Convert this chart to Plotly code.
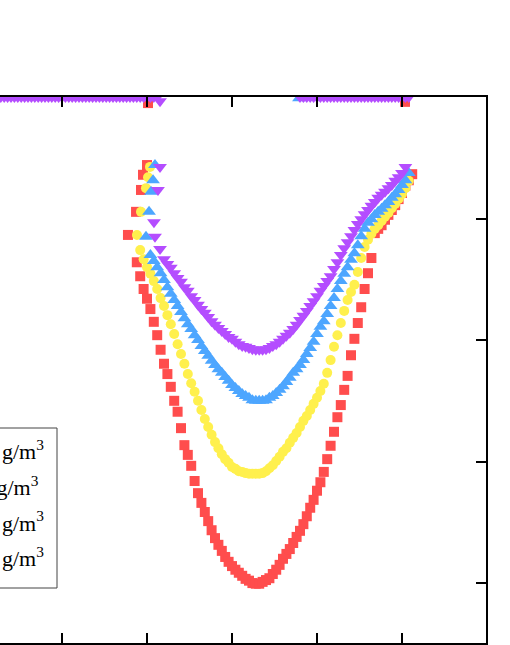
import pandas as pd
import plotly.express as px

# shared x grid of the dip curves
x_grid = [18.8, 19.2, 19.6, 20.0, 20.4, 20.8, 21.2, 21.6, 22.0, 22.4,
          22.8, 23.2, 23.6, 24.0, 24.4, 24.8, 25.2, 25.6, 26.0, 26.4,
          26.8, 27.2, 27.6, 28.0, 28.4, 28.8, 29.2, 29.6, 30.0, 30.4,
          30.8, 31.2, 31.6, 32.0, 32.4, 32.8, 33.2, 33.6, 34.0, 34.4,
          34.8, 35.2, 35.6, 36.0, 36.4, 36.8, 37.2, 37.6, 38.0, 38.4,
          38.8, 39.2, 39.6, 40.0, 40.4, 40.8, 41.2, 41.6, 42.0, 42.4,
          42.8, 43.2, 43.6, 44.0, 44.4, 44.8, 45.2, 45.6, 46.0, 46.4,
          46.8, 47.2, 47.6, 48.0, 48.4, 48.8, 49.2, 49.6, 50.0, 50.4,
          50.8, 51.2]

red_y = [0.728, 0.705, 0.684, 0.668, 0.651, 0.630, 0.608, 0.584, 0.561, 0.544,
         0.523, 0.500, 0.482, 0.455, 0.427, 0.411, 0.393, 0.368, 0.348, 0.332,
         0.317, 0.302, 0.287, 0.274, 0.263, 0.253, 0.243, 0.235, 0.228, 0.222,
         0.217, 0.212, 0.207, 0.204, 0.200, 0.199, 0.199, 0.202, 0.205, 0.208,
         0.215, 0.222, 0.230, 0.240, 0.248, 0.256, 0.266, 0.276, 0.286, 0.297,
         0.310, 0.324, 0.337, 0.352, 0.366, 0.383, 0.404, 0.426, 0.449, 0.473,
         0.493, 0.518, 0.541, 0.575, 0.602, 0.628, 0.654, 0.684, 0.710, 0.735,
         0.776, 0.783, 0.789, 0.798, 0.806, 0.814, 0.822, 0.832, 0.842, 0.854,
         0.863, 0.873]

yellow_y = [None, 0.748, 0.733, 0.720, 0.709, 0.697, 0.684, 0.669, 0.656, 0.641,
            0.626, 0.610, 0.593, 0.577, 0.561, 0.544, 0.529, 0.515, 0.500, 0.485,
            0.470, 0.457, 0.444, 0.432, 0.422, 0.412, 0.404, 0.398, 0.391, 0.388,
            0.384, 0.383, 0.381, 0.380, 0.380, 0.380, 0.380, 0.381, 0.384, 0.389,
            0.394, 0.401, 0.408, 0.416, 0.422, 0.431, 0.439, 0.447, 0.457, 0.467,
            0.475, 0.485, 0.495, 0.505, 0.516, 0.528, 0.546, 0.567, 0.589, 0.608,
            0.628, 0.648, 0.666, 0.679, 0.691, 0.712, 0.735, 0.753, 0.765, 0.775,
            0.783, 0.789, 0.796, 0.803, 0.809, 0.817, 0.824, 0.832, 0.840, 0.850,
            0.862, None]

blue_y = [None, None, None, None, 0.740, 0.730, 0.720, 0.710, 0.699, 0.687,
          0.676, 0.666, 0.656, 0.646, 0.636, 0.626, 0.618, 0.608, 0.600, 0.590,
          0.582, 0.574, 0.566, 0.559, 0.552, 0.546, 0.539, 0.533, 0.526, 0.521,
          0.516, 0.511, 0.508, 0.505, 0.501, 0.500, 0.500, 0.500, 0.501, 0.505,
          0.508, 0.513, 0.518, 0.524, 0.531, 0.538, 0.546, 0.552, 0.559, 0.567,
          0.577, 0.587, 0.597, 0.610, 0.622, 0.631, 0.643, 0.656, 0.669, 0.684,
          0.697, 0.709, 0.720, 0.732, 0.743, 0.756, 0.771, 0.783, 0.793, 0.799,
          0.806, 0.811, 0.816, 0.822, 0.827, 0.834, 0.840, 0.847, 0.855, 0.863,
          0.875, None]

purple_y = [None, None, None, None, None, None, None, None, 0.733, 0.725,
            0.719, 0.710, 0.702, 0.696, 0.687, 0.681, 0.672, 0.666, 0.658, 0.651,
            0.645, 0.638, 0.631, 0.625, 0.620, 0.615, 0.610, 0.605, 0.602, 0.597,
            0.593, 0.590, 0.589, 0.587, 0.585, 0.584, 0.584, 0.584, 0.585, 0.587,
            0.590, 0.593, 0.597, 0.602, 0.607, 0.612, 0.618, 0.625, 0.633, 0.640,
            0.648, 0.656, 0.664, 0.672, 0.681, 0.689, 0.697, 0.705, 0.717, 0.728,
            0.740, 0.751, 0.761, 0.771, 0.781, 0.791, 0.799, 0.807, 0.814, 0.821,
            0.827, 0.834, 0.839, 0.844, 0.850, 0.855, 0.862, 0.868, 0.875, 0.885,
            None, None]

# points of the upper left bend (and stray points near the top border)
red_hook_x = [20.12, 20.0, 19.53, 19.29, 18.71, 17.76, 50.35]
red_hook_y = [0.990, 0.888, 0.872, 0.847, 0.811, 0.773, 0.992]
yellow_hook_x = [20.35, 20.12, 19.88, 19.29, 18.82]
yellow_hook_y = [0.885, 0.868, 0.850, 0.811, 0.773]
blue_hook_x = [37.88, 20.94, 20.71, 20.47, 20.24, 19.88]
blue_hook_y = [0.998, 0.888, 0.863, 0.844, 0.811, 0.770]
purple_hook_x = [21.53, 21.53, 21.29, 20.82, 20.94, 21.53]
purple_hook_y = [0.993, 0.885, 0.847, 0.794, 0.770, 0.750]

# points sitting on the upper limit
purple_top_x = [2.8, 3.2, 3.6, 4.0, 4.4, 4.8, 5.2, 5.6, 6.0, 6.4,
                6.8, 7.2, 7.6, 8.0, 8.4, 8.8, 9.2, 9.6, 10.0, 10.4,
                10.8, 11.2, 11.6, 12.0, 12.4, 12.8, 13.2, 13.6, 14.0, 14.4,
                14.8, 15.2, 15.6, 16.0, 16.4, 16.8, 17.2, 17.6, 18.0, 18.4,
                18.8, 19.2, 19.6, 20.0, 20.4, 20.8, 21.2,
                38.0, 38.4, 38.8, 39.2, 39.6, 40.0, 40.4, 40.8, 41.2, 41.6,
                42.0, 42.4, 42.8, 43.2, 43.6, 44.0, 44.4, 44.8, 45.2, 45.6,
                46.0, 46.4, 46.8, 47.2, 47.6, 48.0, 48.4, 48.8, 49.2, 49.6,
                50.0, 50.4, 50.8]
purple_top_y = [1.0, 1.0, 1.0, 1.0, 1.0, 1.0, 1.0, 1.0, 1.0, 1.0,
                1.0, 1.0, 1.0, 1.0, 1.0, 1.0, 1.0, 1.0, 1.0, 1.0,
                1.0, 1.0, 1.0, 1.0, 1.0, 1.0, 1.0, 1.0, 1.0, 1.0,
                1.0, 1.0, 1.0, 1.0, 1.0, 1.0, 1.0, 1.0, 1.0, 1.0,
                1.0, 1.0, 1.0, 1.0, 1.0, 1.0, 1.0,
                1.0, 1.0, 1.0, 1.0, 1.0, 1.0, 1.0, 1.0, 1.0, 1.0,
                1.0, 1.0, 1.0, 1.0, 1.0, 1.0, 1.0, 1.0, 1.0, 1.0,
                1.0, 1.0, 1.0, 1.0, 1.0, 1.0, 1.0, 1.0, 1.0, 1.0,
                1.0, 1.0, 1.0]

names = ["7.5 g/m<sup>3</sup>", "10 g/m<sup>3</sup>",
         "5.0 g/m<sup>3</sup>", "2.5 g/m<sup>3</sup>"]
colors = ["#FF4D4D", "#FFF04D", "#4DA6FF", "#B44DFF"]
symbols = ["square", "circle", "triangle-up", "triangle-down"]


def build_df():
	parts = [
		(names[0], x_grid + red_hook_x, red_y + red_hook_y),
		(names[1], x_grid + yellow_hook_x, yellow_y + yellow_hook_y),
		(names[2], x_grid + blue_hook_x, blue_y + blue_hook_y),
		(names[3], x_grid + purple_hook_x + purple_top_x,
		 purple_y + purple_hook_y + purple_top_y),
	]
	frames = [pd.DataFrame({'x': xs, 'y': ys, 'series': n}) for n, xs, ys in parts]
	return pd.concat(frames, ignore_index=True)


def create_figure(df):
	fig = px.scatter(
		df,
		x='x',
		y='y',
		color='series',
		symbol='series',
		color_discrete_sequence=colors,
		symbol_sequence=symbols,
	)
	fig.update_traces(marker=dict(size=10, line=dict(width=0)))
	fig.update_traces(selector={'name': names[2]}, marker_size=12)
	fig.update_traces(selector={'name': names[3]}, marker_size=12)
	fig.update_layout(
		width=510,
		height=645,
		margin=dict(l=0, r=0, t=97, b=2, autoexpand=False),
		plot_bgcolor='white',
		paper_bgcolor='white',
		legend=dict(
			title=dict(text=''),
			x=50 / 510,
			xanchor='right',
			y=(643 - 430) / 546,
			yanchor='top',
			font=dict(family='Liberation Serif', size=22, color='black'),
			bgcolor='rgba(0,0,0,0)',
			borderwidth=0,
			tracegroupgap=4,
		),
		# legend frame, its left part runs past the page edge
		shapes=[dict(
			type='rect', xref='paper', yref='paper',
			x0=-0.3, x1=57 / 510,
			y0=(643 - 588) / 546, y1=(643 - 428) / 546,
			line=dict(color='#444444', width=1),
			fillcolor='white',
			layer='below',
		)],
	)
	fig.update_xaxes(
		title_text='',
		domain=[0, 486 / 510],
		range=[2.706, 59.882],
		tickvals=[10, 20, 30, 40, 50],
		ticks='inside',
		ticklen=10,
		tickwidth=2,
		tickcolor='black',
		showline=True,
		linewidth=2,
		linecolor='black',
		mirror='ticks',
		showgrid=False,
		zeroline=False,
		showticklabels=False,
	)
	fig.update_yaxes(
		title_text='',
		range=[0.1014, 1.0],
		side='right',
		tickvals=[0.2, 0.4, 0.6, 0.8],
		ticks='inside',
		ticklen=10,
		tickwidth=2,
		tickcolor='black',
		showline=True,
		linewidth=2,
		linecolor='black',
		showgrid=False,
		zeroline=False,
		showticklabels=False,
	)
	return fig


fig = create_figure(build_df())
# the page's default body margin would shift the chart by 8px
fig.write_html(
	"out.html",
	config={'displayModeBar': False},
	post_script="document.body.style.margin = '0';",
)
